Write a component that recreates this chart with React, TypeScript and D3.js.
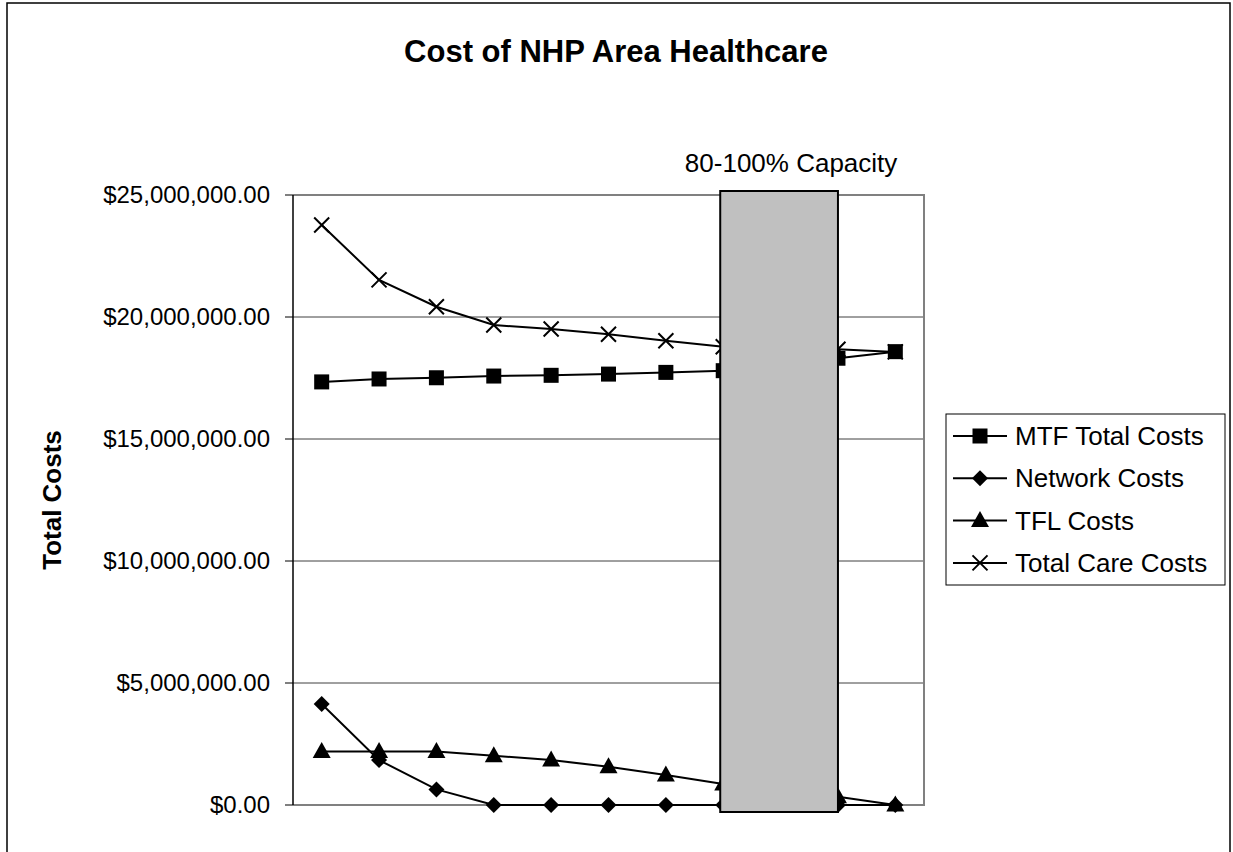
import React from 'react';
import * as d3 from 'd3';

// capacity levels along the x axis (labels are not shown on the chart)
const categories = ['10%', '20%', '30%', '40%', '50%', '60%', '70%', '80%', '90%', '100%', '110%'];

const mtfTotal = [17.34e6, 17.46e6, 17.51e6, 17.58e6, 17.61e6, 17.66e6, 17.73e6, 17.80e6, 18.05e6, 18.31e6, 18.58e6];
const networkCosts = [4.14e6, 1.84e6, 0.64e6, 0, 0, 0, 0, 0, 0, 0, 0];
const tflCosts = [2.19e6, 2.19e6, 2.19e6, 2.02e6, 1.84e6, 1.57e6, 1.23e6, 0.86e6, 0.6e6, 0.34e6, 0];
const totalCare = [23.77e6, 21.52e6, 20.42e6, 19.67e6, 19.51e6, 19.29e6, 19.03e6, 18.78e6, 18.7e6, 18.68e6, 18.57e6];

const yTicks = [0, 5e6, 10e6, 15e6, 20e6, 25e6];
const capacityRange = ['80%', '100%'];

const series = [
  { name: 'MTF Total Costs', values: mtfTotal, marker: 'square' },
  { name: 'Network Costs', values: networkCosts, marker: 'diamond' },
  { name: 'TFL Costs', values: tflCosts, marker: 'triangle' },
  { name: 'Total Care Costs', values: totalCare, marker: 'x' },
];

const font = 'Arial, "Liberation Sans", sans-serif';

const Marker = ({ type, x, y }: { type: string; x: number; y: number }) => {
  if (type === 'square') return <rect x={x - 7.5} y={y - 7.5} width={15} height={15} fill="#000" />;
  if (type === 'diamond') return <path d={`M${x},${y - 8}L${x + 8},${y}L${x},${y + 8}L${x - 8},${y}Z`} fill="#000" />;
  if (type === 'triangle') return <path d={`M${x},${y - 9.5}L${x + 9},${y + 6.5}L${x - 9},${y + 6.5}Z`} fill="#000" />;
  return (
    <path d={`M${x - 7.5},${y - 7.5}L${x + 7.5},${y + 7.5}M${x - 7.5},${y + 7.5}L${x + 7.5},${y - 7.5}`} stroke="#000" strokeWidth={2} />
  );
};

const App = () => {
  const left = 293, right = 924, top = 195, bottom = 805;

  const x = d3.scaleBand().domain(categories).range([left, right]).padding(0);
  const cx = (c: string) => (x(c) as number) + x.bandwidth() / 2;
  const y = d3.scaleLinear().domain([0, 25e6]).range([bottom, top]);

  const line = d3.line<number>()
    .x((_, i) => cx(categories[i]))
    .y(d => y(d));

  const fmt = (v: number) => '$' + d3.format(',.2f')(v);

  const boxX0 = cx(capacityRange[0]) - 3;
  const boxX1 = cx(capacityRange[1]);

  return (
    <svg width={1233} height={852} style={{ position: 'absolute', left: 0, top: 0, fontFamily: font }}>
      <rect x={0} y={0} width={1233} height={852} fill="#fff" />
      {/* chart frame */}
      <rect x={7} y={3} width={1223} height={880} fill="none" stroke="#000" strokeWidth={1.5} />

      <text x={616} y={62} textAnchor="middle" fontSize={31} fontWeight="bold">Cost of NHP Area Healthcare</text>

      {/* gridlines */}
      {yTicks.slice(1, -1).map(t => (
        <line key={t} x1={left} x2={right} y1={y(t)} y2={y(t)} stroke="#404040" strokeWidth={1} />
      ))}
      {/* plot border */}
      <path d={`M${left},${top}H${right}V${bottom}H${left}`} fill="none" stroke="#808080" strokeWidth={2} />

      {/* y axis */}
      <line x1={left} x2={left} y1={top} y2={bottom} stroke="#000" strokeWidth={1.5} />
      {yTicks.map(t => (
        <g key={t}>
          <line x1={left - 8} x2={left} y1={y(t)} y2={y(t)} stroke="#000" strokeWidth={1} />
          <text x={270} y={y(t)} dy="0.35em" textAnchor="end" fontSize={24}>{fmt(t)}</text>
        </g>
      ))}
      <text transform={`translate(61,${(top + bottom) / 2}) rotate(-90)`} textAnchor="middle" fontSize={26} fontWeight="bold">Total Costs</text>

      {/* series */}
      {series.map(s => (
        <g key={s.name}>
          <path d={line(s.values) as string} fill="none" stroke="#000" strokeWidth={2} />
          {s.values.map((v, i) => (
            <Marker key={i} type={s.marker} x={cx(categories[i])} y={y(v)} />
          ))}
        </g>
      ))}

      {/* capacity band */}
      <rect x={boxX0} y={top - 4} width={boxX1 - boxX0} height={bottom - top + 11} fill="#c0c0c0" stroke="#000" strokeWidth={2} />
      <text x={(boxX0 + boxX1) / 2 + 12} y={172} textAnchor="middle" fontSize={26}>80-100% Capacity</text>

      {/* legend */}
      <rect x={946} y={414} width={279} height={171} fill="#fff" stroke="#000" strokeWidth={1} />
      {series.map((s, i) => {
        const ly = 436 + i * 42.3;
        return (
          <g key={s.name}>
            <line x1={953} x2={1007} y1={ly} y2={ly} stroke="#000" strokeWidth={2} />
            <Marker type={s.marker} x={980} y={ly} />
            <text x={1015} y={ly} dy="0.35em" fontSize={26}>{s.name}</text>
          </g>
        );
      })}
    </svg>
  );
};

export default App;
